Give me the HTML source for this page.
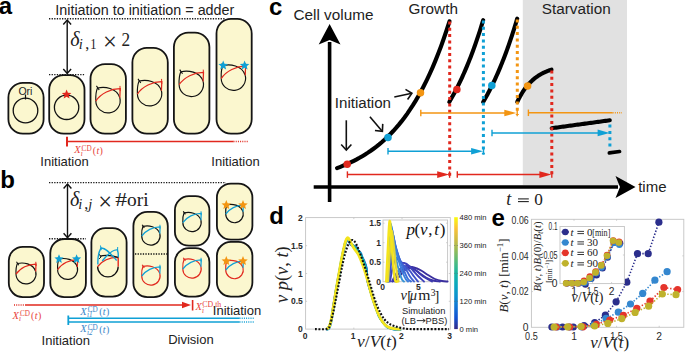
<!DOCTYPE html>
<html><head><meta charset="utf-8"><style>
html,body{margin:0;padding:0;background:#fff;}
svg{display:block;}
</style></head><body>
<svg width="685" height="353" viewBox="0 0 685 353">
<rect width="685" height="353" fill="#fff"/>
<text x="-1.3" y="14.3" font-family='"Liberation Sans", sans-serif' font-size="24" fill="#000" font-weight="bold" font-style="normal" text-anchor="start" >a</text>
<text x="55.3" y="14.9" font-family='"Liberation Sans", sans-serif' font-size="14.35" fill="#222" font-weight="normal" font-style="normal" text-anchor="start" >Initiation to initiation = adder</text>
<line x1="49" y1="18.8" x2="225" y2="18.8" stroke="#1a1a1a" stroke-width="1.4" stroke-dasharray="1.3,1.3" stroke-linecap="butt"/>
<line x1="49" y1="74.6" x2="85" y2="74.6" stroke="#1a1a1a" stroke-width="1.4" stroke-dasharray="1.3,1.3" stroke-linecap="butt"/>
<line x1="67.2" y1="20" x2="67.2" y2="73.5" stroke="#111" stroke-width="1.4" stroke-linecap="butt"/>
<path d="M63.3,24.5 L67.2,20 L71.1,24.5" stroke="#111" stroke-width="1.4" fill="none" />
<path d="M63.3,69 L67.2,73.5 L71.1,69" stroke="#111" stroke-width="1.4" fill="none" />
<text x="70.2" y="45.8" font-family='"Liberation Serif", serif' font-size="20" fill="#222" font-weight="normal" font-style="italic" text-anchor="start" >δ</text>
<text x="78.7" y="48.9" font-family='"Liberation Serif", serif' font-size="14.5" fill="#222" font-weight="normal" font-style="italic" text-anchor="start" >i</text>
<text x="85.2" y="48.9" font-family='"Liberation Serif", serif' font-size="16" fill="#222" font-weight="normal" font-style="normal" text-anchor="start" >,</text>
<text x="90.3" y="48.9" font-family='"Liberation Serif", serif' font-size="14" fill="#222" font-weight="normal" font-style="normal" text-anchor="start" textLength="6.2" lengthAdjust="spacingAndGlyphs">1</text>
<text x="102.9" y="49.6" font-family='"Liberation Serif", serif' font-size="24.5" fill="#222" font-weight="normal" font-style="normal" text-anchor="start" >×</text>
<text x="121.6" y="45.9" font-family='"Liberation Serif", serif' font-size="18" fill="#222" font-weight="normal" font-style="normal" text-anchor="start" textLength="8.6" lengthAdjust="spacingAndGlyphs">2</text>
<rect x="8.4" y="82.9" width="35.2" height="50.8" rx="14.5" ry="14.5" fill="#fbf7cf" stroke="#151515" stroke-width="1.8"/>
<rect x="49.199999999999996" y="75.2" width="35.30000000000001" height="58.5" rx="14.5" ry="14.5" fill="#fbf7cf" stroke="#151515" stroke-width="1.8"/>
<rect x="90.5" y="64.10000000000001" width="35.400000000000006" height="69.6" rx="14.5" ry="14.5" fill="#fbf7cf" stroke="#151515" stroke-width="1.8"/>
<rect x="132.4" y="47.9" width="35.39999999999999" height="85.8" rx="14.5" ry="14.5" fill="#fbf7cf" stroke="#151515" stroke-width="1.8"/>
<rect x="173.9" y="32.6" width="35.500000000000014" height="101.1" rx="14.5" ry="14.5" fill="#fbf7cf" stroke="#151515" stroke-width="1.8"/>
<rect x="216.5" y="18.9" width="35.2" height="114.8" rx="14.5" ry="14.5" fill="#fbf7cf" stroke="#151515" stroke-width="1.8"/>
<circle cx="25.5" cy="110.5" r="12.3" fill="none" stroke="#111" stroke-width="1.3"/>
<line x1="25.5" y1="94.5" x2="25.5" y2="99.5" stroke="#111" stroke-width="1.2" stroke-linecap="butt"/>
<text x="25.4" y="94.6" font-family='"Liberation Sans", sans-serif' font-size="10.5" fill="#222" font-weight="normal" font-style="normal" text-anchor="middle" >Ori</text>
<circle cx="66.6" cy="107.3" r="12.2" fill="none" stroke="#111" stroke-width="1.3"/>
<polygon points="66.60,89.50 67.92,92.68 71.36,92.95 68.74,95.20 69.54,98.55 66.60,96.75 63.66,98.55 64.46,95.20 61.84,92.95 65.28,92.68" fill="#e1281e"/>
<path d="M95.80,100.80 A12.2,12.2 0 1 0 119.83,97.75" stroke="#111" stroke-width="1.15" fill="none" />
<path d="M95.80,100.80 C95.56,95.31 96.41,90.43 97.51,87.99 C104.34,86.53 116.54,87.38 119.83,97.75" stroke="#111" stroke-width="1.15" fill="none" />
<path d="M95.80,101.04 C100.68,93.48 111.05,88.60 120.20,88.60 L119.83,97.75" stroke="#e1281e" stroke-width="1.25" fill="none" />
<path d="M96.41,85.92 L99.22,90.06" stroke="#111" stroke-width="1.1" fill="none" />
<path d="M119.96,85.92 L120.20,91.04" stroke="#e1281e" stroke-width="1.0" fill="none" />
<path d="M137.40,93.80 A12.2,12.2 0 1 0 161.43,90.75" stroke="#111" stroke-width="1.15" fill="none" />
<path d="M137.40,93.80 C137.16,88.31 138.01,83.43 139.11,80.99 C145.94,79.53 158.14,80.38 161.43,90.75" stroke="#111" stroke-width="1.15" fill="none" />
<path d="M137.40,94.04 C142.28,86.48 152.65,81.60 161.80,81.60 L161.43,90.75" stroke="#e1281e" stroke-width="1.25" fill="none" />
<path d="M138.01,78.92 L140.82,83.06" stroke="#111" stroke-width="1.1" fill="none" />
<path d="M161.56,78.92 L161.80,84.04" stroke="#e1281e" stroke-width="1.0" fill="none" />
<path d="M179.10,84.50 A12.2,12.2 0 1 0 203.13,81.45" stroke="#111" stroke-width="1.15" fill="none" />
<path d="M179.10,84.50 C178.86,79.01 179.71,74.13 180.81,71.69 C187.64,70.23 199.84,71.08 203.13,81.45" stroke="#111" stroke-width="1.15" fill="none" />
<path d="M179.10,84.74 C183.98,77.18 194.35,72.30 203.50,72.30 L203.13,81.45" stroke="#e1281e" stroke-width="1.25" fill="none" />
<path d="M179.71,69.62 L182.52,73.76" stroke="#111" stroke-width="1.1" fill="none" />
<path d="M203.26,69.62 L203.50,74.74" stroke="#e1281e" stroke-width="1.0" fill="none" />
<path d="M221.20,78.30 A12.2,12.2 0 1 0 245.23,75.25" stroke="#111" stroke-width="1.15" fill="none" />
<path d="M221.20,78.30 C220.96,72.81 221.81,67.93 222.91,65.49 C229.74,64.03 241.94,64.88 245.23,75.25" stroke="#111" stroke-width="1.15" fill="none" />
<path d="M221.20,78.54 C226.08,70.98 236.45,66.10 245.60,66.10 L245.23,75.25" stroke="#e1281e" stroke-width="1.25" fill="none" />
<path d="M221.81,63.42 L224.62,67.56" stroke="#111" stroke-width="1.1" fill="none" />
<path d="M245.36,63.42 L245.60,68.54" stroke="#e1281e" stroke-width="1.0" fill="none" />
<polygon points="223.20,60.50 224.52,63.68 227.96,63.95 225.34,66.20 226.14,69.55 223.20,67.75 220.26,69.55 221.06,66.20 218.44,63.95 221.88,63.68" fill="#0fa0d5"/>
<polygon points="244.60,60.50 245.92,63.68 249.36,63.95 246.74,66.20 247.54,69.55 244.60,67.75 241.66,69.55 242.46,66.20 239.84,63.95 243.28,63.68" fill="#0fa0d5"/>
<line x1="67" y1="141.5" x2="233.5" y2="141.5" stroke="#e1281e" stroke-width="1.4" stroke-linecap="butt"/>
<line x1="233.5" y1="141.5" x2="248" y2="141.5" stroke="#e1281e" stroke-width="1.4" stroke-dasharray="1,1.2" stroke-linecap="butt"/>
<line x1="67" y1="136.8" x2="67" y2="146.5" stroke="#e1281e" stroke-width="2" stroke-linecap="butt"/>
<text x="74.2" y="153.2" font-family='"Liberation Serif", serif' font-size="10.5" fill="#e8453c" font-weight="normal" font-style="italic" text-anchor="start" >X</text>
<text x="80.8" y="155.79999999999998" font-family='"Liberation Serif", serif' font-size="7.2" fill="#e8453c" font-weight="normal" font-style="italic" text-anchor="start" >i</text>
<text x="81.60000000000001" y="150.79999999999998" font-family='"Liberation Serif", serif' font-size="7.2" fill="#e8453c" font-weight="normal" font-style="normal" text-anchor="start" >CD</text>
<text x="92.80000000000001" y="153.5" font-family='"Liberation Serif", serif' font-size="10" fill="#e8453c" font-weight="normal" font-style="normal" text-anchor="start" >(</text>
<text x="96.4" y="153.5" font-family='"Liberation Serif", serif' font-size="10" fill="#e8453c" font-weight="normal" font-style="italic" text-anchor="start" >t</text>
<text x="99.6" y="153.5" font-family='"Liberation Serif", serif' font-size="10" fill="#e8453c" font-weight="normal" font-style="normal" text-anchor="start" >)</text>
<text x="40.3" y="166" font-family='"Liberation Sans", sans-serif' font-size="13" fill="#222" font-weight="normal" font-style="normal" text-anchor="start" >Initiation</text>
<text x="211.3" y="166" font-family='"Liberation Sans", sans-serif' font-size="13" fill="#222" font-weight="normal" font-style="normal" text-anchor="start" >Initiation</text>
<text x="0.3" y="188.1" font-family='"Liberation Sans", sans-serif' font-size="24" fill="#000" font-weight="bold" font-style="normal" text-anchor="start" >b</text>
<line x1="49" y1="182.6" x2="226" y2="182.6" stroke="#1a1a1a" stroke-width="1.4" stroke-dasharray="1.3,1.3" stroke-linecap="butt"/>
<line x1="49" y1="238.8" x2="86" y2="238.8" stroke="#1a1a1a" stroke-width="1.4" stroke-dasharray="1.3,1.3" stroke-linecap="butt"/>
<line x1="67.5" y1="184" x2="67.5" y2="237.8" stroke="#111" stroke-width="1.4" stroke-linecap="butt"/>
<path d="M63.6,188.5 L67.5,184 L71.4,188.5" stroke="#111" stroke-width="1.4" fill="none" />
<path d="M63.6,233.3 L67.5,237.8 L71.4,233.3" stroke="#111" stroke-width="1.4" fill="none" />
<text x="70.0" y="205.7" font-family='"Liberation Serif", serif' font-size="20" fill="#222" font-weight="normal" font-style="italic" text-anchor="start" >δ</text>
<text x="78.2" y="208.9" font-family='"Liberation Serif", serif' font-size="14.5" fill="#222" font-weight="normal" font-style="italic" text-anchor="start" >i</text>
<text x="84.3" y="208.9" font-family='"Liberation Serif", serif' font-size="16" fill="#222" font-weight="normal" font-style="normal" text-anchor="start" >,</text>
<text x="88.2" y="208.9" font-family='"Liberation Serif", serif' font-size="14.5" fill="#222" font-weight="normal" font-style="italic" text-anchor="start" >j</text>
<text x="98.2" y="209.6" font-family='"Liberation Serif", serif' font-size="24.5" fill="#222" font-weight="normal" font-style="normal" text-anchor="start" >×</text>
<text x="115.2" y="205.8" font-family='"Liberation Serif", serif' font-size="18" fill="#222" font-weight="normal" font-style="normal" text-anchor="start" textLength="11.8" lengthAdjust="spacingAndGlyphs">#</text>
<text x="127.0" y="205.8" font-family='"Liberation Serif", serif' font-size="18" fill="#222" font-weight="normal" font-style="normal" text-anchor="start" textLength="21.6" lengthAdjust="spacingAndGlyphs">ori</text>
<rect x="8.8" y="246.8" width="35.2" height="50.3" rx="14" ry="14" fill="#fbf7cf" stroke="#151515" stroke-width="1.8"/>
<rect x="50.3" y="239.0" width="35.6" height="58.10000000000001" rx="14" ry="14" fill="#fbf7cf" stroke="#151515" stroke-width="1.8"/>
<rect x="91.4" y="228.20000000000002" width="35.2" height="68.39999999999999" rx="14" ry="14" fill="#fbf7cf" stroke="#151515" stroke-width="1.8"/>
<rect x="133.4" y="211.9" width="34.39999999999999" height="85.2" rx="14" ry="14" fill="#fbf7cf" stroke="#151515" stroke-width="1.8"/>
<rect x="174.9" y="196.20000000000002" width="34.500000000000014" height="49.499999999999986" rx="14" ry="14" fill="#fbf7cf" stroke="#151515" stroke-width="1.8"/>
<rect x="174.9" y="248.1" width="34.500000000000014" height="48.500000000000014" rx="14" ry="14" fill="#fbf7cf" stroke="#151515" stroke-width="1.8"/>
<rect x="216.9" y="183.6" width="35.500000000000014" height="56.10000000000001" rx="14" ry="14" fill="#fbf7cf" stroke="#151515" stroke-width="1.8"/>
<rect x="216.9" y="241.9" width="35.500000000000014" height="54.7" rx="14" ry="14" fill="#fbf7cf" stroke="#151515" stroke-width="1.8"/>
<line x1="135" y1="254" x2="167" y2="254" stroke="#111" stroke-width="1.3" stroke-dasharray="1.3,1.3" stroke-linecap="butt"/>
<path d="M16.00,274.00 A10,10 0 1 0 35.70,271.50" stroke="#111" stroke-width="1.15" fill="none" />
<path d="M16.00,274.00 C15.80,269.50 16.50,265.50 17.40,263.50 C23.00,262.30 33.00,263.00 35.70,271.50" stroke="#111" stroke-width="1.15" fill="none" />
<path d="M16.00,274.20 C20.00,268.00 28.50,264.00 36.00,264.00 L35.70,271.50" stroke="#e1281e" stroke-width="1.25" fill="none" />
<path d="M16.50,261.80 L18.80,265.20" stroke="#111" stroke-width="1.1" fill="none" />
<path d="M35.80,261.80 L36.00,266.00" stroke="#e1281e" stroke-width="1.0" fill="none" />
<path d="M57.60,269.50 A10,10 0 1 0 77.30,267.00" stroke="#111" stroke-width="1.15" fill="none" />
<path d="M57.60,269.50 C57.40,265.00 58.10,261.00 59.00,259.00 C64.60,257.80 74.60,258.50 77.30,267.00" stroke="#111" stroke-width="1.15" fill="none" />
<path d="M57.60,269.70 C61.60,263.50 70.10,259.50 77.60,259.50 L77.30,267.00" stroke="#e1281e" stroke-width="1.25" fill="none" />
<path d="M58.10,257.30 L60.40,260.70" stroke="#111" stroke-width="1.1" fill="none" />
<path d="M77.40,257.30 L77.60,261.50" stroke="#e1281e" stroke-width="1.0" fill="none" />
<polygon points="59.00,254.20 60.27,257.25 63.57,257.52 61.05,259.67 61.82,262.88 59.00,261.16 56.18,262.88 56.95,259.67 54.43,257.52 57.73,257.25" fill="#0fa0d5"/>
<polygon points="76.60,254.20 77.87,257.25 81.17,257.52 78.65,259.67 79.42,262.88 76.60,261.16 73.78,262.88 74.55,259.67 72.03,257.52 75.33,257.25" fill="#0fa0d5"/>
<path d="M97.60,266.60 A10.3,10.3 0 0 0 118.20,266.60" stroke="#111" stroke-width="1.3" fill="none" />
<path d="M97.60,266.60 C102.23,260.42 110.48,257.33 118.20,257.33 L118.20,266.60" stroke="#e1281e" stroke-width="1.4" fill="none" />
<path d="M99.87,256.09 C104.81,255.06 113.05,255.79 118.20,257.33" stroke="#111" stroke-width="1.3" fill="none" />
<path d="M98.63,253.73 L101.21,256.81 L99.15,258.88" stroke="#111" stroke-width="1.0" fill="none" />
<path d="M97.91,264.54 C97.60,257.33 99.15,251.15 100.90,248.06 C105.84,247.55 110.99,254.24 116.66,260.42" stroke="#0fa0d5" stroke-width="1.4" fill="none" />
<path d="M102.23,260.94 C106.87,255.27 113.05,249.09 117.48,249.91 C118.41,253.21 118.41,255.27 118.20,257.33" stroke="#0fa0d5" stroke-width="1.4" fill="none" />
<path d="M100.48,245.49 L101.31,250.12" stroke="#0fa0d5" stroke-width="1.0" fill="none" />
<path d="M117.69,247.03 L117.48,251.67" stroke="#0fa0d5" stroke-width="1.0" fill="none" />
<path d="M141.70,236.00 A9.2,9.2 0 1 0 159.82,233.70" stroke="#111" stroke-width="1.15" fill="none" />
<path d="M141.70,236.00 C141.52,231.86 142.16,228.18 142.99,226.34 C148.14,225.24 157.34,225.88 159.82,233.70" stroke="#111" stroke-width="1.15" fill="none" />
<path d="M141.70,236.18 C145.38,230.48 153.20,226.80 160.10,226.80 L159.82,233.70" stroke="#0fa0d5" stroke-width="1.25" fill="none" />
<path d="M142.16,224.78 L144.28,227.90" stroke="#111" stroke-width="1.1" fill="none" />
<path d="M159.92,224.78 L160.10,228.64" stroke="#0fa0d5" stroke-width="1.0" fill="none" />
<path d="M141.70,276.00 A9.2,9.2 0 1 0 159.82,273.70" stroke="#e1281e" stroke-width="1.15" fill="none" />
<path d="M141.70,276.00 C141.52,271.86 142.16,268.18 142.99,266.34 C148.14,265.24 157.34,265.88 159.82,273.70" stroke="#e1281e" stroke-width="1.15" fill="none" />
<path d="M141.70,276.18 C145.38,270.48 153.20,266.80 160.10,266.80 L159.82,273.70" stroke="#0fa0d5" stroke-width="1.25" fill="none" />
<path d="M142.16,264.78 L144.28,267.90" stroke="#e1281e" stroke-width="1.1" fill="none" />
<path d="M159.92,264.78 L160.10,268.64" stroke="#0fa0d5" stroke-width="1.0" fill="none" />
<path d="M182.80,222.50 A9.2,9.2 0 1 0 200.92,220.20" stroke="#111" stroke-width="1.15" fill="none" />
<path d="M182.80,222.50 C182.62,218.36 183.26,214.68 184.09,212.84 C189.24,211.74 198.44,212.38 200.92,220.20" stroke="#111" stroke-width="1.15" fill="none" />
<path d="M182.80,222.68 C186.48,216.98 194.30,213.30 201.20,213.30 L200.92,220.20" stroke="#0fa0d5" stroke-width="1.25" fill="none" />
<path d="M183.26,211.28 L185.38,214.40" stroke="#111" stroke-width="1.1" fill="none" />
<path d="M201.02,211.28 L201.20,215.14" stroke="#0fa0d5" stroke-width="1.0" fill="none" />
<path d="M182.80,269.00 A9.2,9.2 0 1 0 200.92,266.70" stroke="#e1281e" stroke-width="1.15" fill="none" />
<path d="M182.80,269.00 C182.62,264.86 183.26,261.18 184.09,259.34 C189.24,258.24 198.44,258.88 200.92,266.70" stroke="#e1281e" stroke-width="1.15" fill="none" />
<path d="M182.80,269.18 C186.48,263.48 194.30,259.80 201.20,259.80 L200.92,266.70" stroke="#0fa0d5" stroke-width="1.25" fill="none" />
<path d="M183.26,257.78 L185.38,260.90" stroke="#e1281e" stroke-width="1.1" fill="none" />
<path d="M201.02,257.78 L201.20,261.64" stroke="#0fa0d5" stroke-width="1.0" fill="none" />
<path d="M225.70,214.00 A8.8,8.8 0 1 0 243.04,211.80" stroke="#111" stroke-width="1.15" fill="none" />
<path d="M225.70,214.00 C225.52,210.04 226.14,206.52 226.93,204.76 C231.86,203.70 240.66,204.32 243.04,211.80" stroke="#111" stroke-width="1.15" fill="none" />
<path d="M225.70,214.18 C229.22,208.72 236.70,205.20 243.30,205.20 L243.04,211.80" stroke="#0fa0d5" stroke-width="1.25" fill="none" />
<path d="M226.14,203.26 L228.16,206.26" stroke="#111" stroke-width="1.1" fill="none" />
<path d="M243.12,203.26 L243.30,206.96" stroke="#0fa0d5" stroke-width="1.0" fill="none" />
<path d="M225.70,270.00 A8.8,8.8 0 1 0 243.04,267.80" stroke="#e1281e" stroke-width="1.15" fill="none" />
<path d="M225.70,270.00 C225.52,266.04 226.14,262.52 226.93,260.76 C231.86,259.70 240.66,260.32 243.04,267.80" stroke="#e1281e" stroke-width="1.15" fill="none" />
<path d="M225.70,270.18 C229.22,264.72 236.70,261.20 243.30,261.20 L243.04,267.80" stroke="#0fa0d5" stroke-width="1.25" fill="none" />
<path d="M226.14,259.26 L228.16,262.26" stroke="#e1281e" stroke-width="1.1" fill="none" />
<path d="M243.12,259.26 L243.30,262.96" stroke="#0fa0d5" stroke-width="1.0" fill="none" />
<polygon points="226.30,200.00 227.62,203.18 231.06,203.45 228.44,205.70 229.24,209.05 226.30,207.25 223.36,209.05 224.16,205.70 221.54,203.45 224.98,203.18" fill="#f39512"/>
<polygon points="243.00,200.00 244.32,203.18 247.76,203.45 245.14,205.70 245.94,209.05 243.00,207.25 240.06,209.05 240.86,205.70 238.24,203.45 241.68,203.18" fill="#f39512"/>
<polygon points="226.30,256.00 227.62,259.18 231.06,259.45 228.44,261.70 229.24,265.05 226.30,263.25 223.36,265.05 224.16,261.70 221.54,259.45 224.98,259.18" fill="#f39512"/>
<polygon points="243.00,256.00 244.32,259.18 247.76,259.45 245.14,261.70 245.94,265.05 243.00,263.25 240.06,265.05 240.86,261.70 238.24,259.45 241.68,259.18" fill="#f39512"/>
<line x1="14" y1="305" x2="26" y2="305" stroke="#e1281e" stroke-width="1.4" stroke-dasharray="1,1.2" stroke-linecap="butt"/>
<line x1="26" y1="305" x2="183.0" y2="305.0" stroke="#e1281e" stroke-width="1.4" stroke-linecap="butt"/>
<polygon points="191,305 182.00,308.20 182.00,301.80" fill="#e1281e"/>
<line x1="192.6" y1="300" x2="192.6" y2="310.5" stroke="#e1281e" stroke-width="1.6" stroke-linecap="butt"/>
<text x="12.5" y="318.8" font-family='"Liberation Serif", serif' font-size="10.5" fill="#e8453c" font-weight="normal" font-style="italic" text-anchor="start" >X</text>
<text x="19.1" y="321.40000000000003" font-family='"Liberation Serif", serif' font-size="7.2" fill="#e8453c" font-weight="normal" font-style="italic" text-anchor="start" >i</text>
<text x="19.9" y="316.40000000000003" font-family='"Liberation Serif", serif' font-size="7.2" fill="#e8453c" font-weight="normal" font-style="normal" text-anchor="start" >CD</text>
<text x="31.1" y="319.1" font-family='"Liberation Serif", serif' font-size="10" fill="#e8453c" font-weight="normal" font-style="normal" text-anchor="start" >(</text>
<text x="34.7" y="319.1" font-family='"Liberation Serif", serif' font-size="10" fill="#e8453c" font-weight="normal" font-style="italic" text-anchor="start" >t</text>
<text x="37.9" y="319.1" font-family='"Liberation Serif", serif' font-size="10" fill="#e8453c" font-weight="normal" font-style="normal" text-anchor="start" >)</text>
<text x="195.5" y="310.3" font-family='"Liberation Serif", serif' font-size="10.5" fill="#e8453c" font-weight="normal" font-style="italic" text-anchor="start" >X</text>
<text x="202.1" y="312.9" font-family='"Liberation Serif", serif' font-size="7.2" fill="#e8453c" font-weight="normal" font-style="italic" text-anchor="start" >i</text>
<text x="202.3" y="306.6" font-family='"Liberation Serif", serif' font-size="7.2" fill="#e8453c" font-weight="normal" font-style="normal" text-anchor="start" textLength="19" lengthAdjust="spacingAndGlyphs">CD,th</text>
<text x="212.8" y="315" font-family='"Liberation Sans", sans-serif' font-size="13" fill="#222" font-weight="normal" font-style="normal" text-anchor="start" >Initiation</text>
<line x1="68" y1="318.2" x2="239.5" y2="318.2" stroke="#0fa0d5" stroke-width="1.5" stroke-linecap="butt"/>
<line x1="68" y1="322" x2="239.5" y2="322" stroke="#0fa0d5" stroke-width="1.5" stroke-linecap="butt"/>
<line x1="239.5" y1="318.2" x2="254" y2="318.2" stroke="#0fa0d5" stroke-width="1.5" stroke-dasharray="1,1.2" stroke-linecap="butt"/>
<line x1="239.5" y1="322" x2="254" y2="322" stroke="#0fa0d5" stroke-width="1.5" stroke-dasharray="1,1.2" stroke-linecap="butt"/>
<line x1="68.3" y1="315.5" x2="68.3" y2="325" stroke="#0fa0d5" stroke-width="1.8" stroke-linecap="butt"/>
<text x="80.3" y="314.6" font-family='"Liberation Serif", serif' font-size="10.5" fill="#3b86c8" font-weight="normal" font-style="italic" text-anchor="start" >X</text>
<text x="86.9" y="317.20000000000005" font-family='"Liberation Serif", serif' font-size="7.2" fill="#3b86c8" font-weight="normal" font-style="italic" text-anchor="start" >i1</text>
<text x="87.7" y="312.20000000000005" font-family='"Liberation Serif", serif' font-size="7.2" fill="#3b86c8" font-weight="normal" font-style="normal" text-anchor="start" >CD</text>
<text x="99.2" y="314.90000000000003" font-family='"Liberation Serif", serif' font-size="10" fill="#3b86c8" font-weight="normal" font-style="normal" text-anchor="start" >(</text>
<text x="102.8" y="314.90000000000003" font-family='"Liberation Serif", serif' font-size="10" fill="#3b86c8" font-weight="normal" font-style="italic" text-anchor="start" >t</text>
<text x="106" y="314.90000000000003" font-family='"Liberation Serif", serif' font-size="10" fill="#3b86c8" font-weight="normal" font-style="normal" text-anchor="start" >)</text>
<text x="80.3" y="332.2" font-family='"Liberation Serif", serif' font-size="10.5" fill="#3b86c8" font-weight="normal" font-style="italic" text-anchor="start" >X</text>
<text x="86.9" y="334.8" font-family='"Liberation Serif", serif' font-size="7.2" fill="#3b86c8" font-weight="normal" font-style="italic" text-anchor="start" >i2</text>
<text x="87.7" y="329.8" font-family='"Liberation Serif", serif' font-size="7.2" fill="#3b86c8" font-weight="normal" font-style="normal" text-anchor="start" >CD</text>
<text x="99.2" y="332.5" font-family='"Liberation Serif", serif' font-size="10" fill="#3b86c8" font-weight="normal" font-style="normal" text-anchor="start" >(</text>
<text x="102.8" y="332.5" font-family='"Liberation Serif", serif' font-size="10" fill="#3b86c8" font-weight="normal" font-style="italic" text-anchor="start" >t</text>
<text x="106" y="332.5" font-family='"Liberation Serif", serif' font-size="10" fill="#3b86c8" font-weight="normal" font-style="normal" text-anchor="start" >)</text>
<text x="41.6" y="345" font-family='"Liberation Sans", sans-serif' font-size="13" fill="#222" font-weight="normal" font-style="normal" text-anchor="start" >Initiation</text>
<text x="168.2" y="344" font-family='"Liberation Sans", sans-serif' font-size="13" fill="#222" font-weight="normal" font-style="normal" text-anchor="start" >Division</text>
<rect x="522.8" y="0" width="104.2" height="185" fill="#e1e1e1"/>
<text x="269" y="14.8" font-family='"Liberation Sans", sans-serif' font-size="24" fill="#000" font-weight="bold" font-style="normal" text-anchor="start" >c</text>
<text x="293.5" y="19.5" font-family='"Liberation Sans", sans-serif' font-size="15.3" fill="#222" font-weight="normal" font-style="normal" text-anchor="start" >Cell volume</text>
<text x="408.6" y="13.8" font-family='"Liberation Sans", sans-serif' font-size="15.3" fill="#222" font-weight="normal" font-style="normal" text-anchor="start" >Growth</text>
<text x="541.8" y="13.8" font-family='"Liberation Sans", sans-serif' font-size="15.3" fill="#222" font-weight="normal" font-style="normal" text-anchor="start" >Starvation</text>
<line x1="329.6" y1="42" x2="329.6" y2="202" stroke="#000" stroke-width="3.6" stroke-linecap="butt"/>
<polygon points="329.6,24 318.7,44.5 329.6,40 340.5,44.5" fill="#000"/>
<line x1="313.7" y1="187" x2="618" y2="187" stroke="#000" stroke-width="3.6" stroke-linecap="butt"/>
<polygon points="635.5,187 615.5,176 620,187 615.5,198" fill="#000"/>
<text x="638.2" y="191.8" font-family='"Liberation Sans", sans-serif' font-size="15" fill="#222" font-weight="normal" font-style="normal" text-anchor="start" >time</text>
<path d="M337.00,168.10 L339.81,167.05 L342.62,165.93 L345.44,164.76 L348.25,163.52 L351.06,162.21 L353.88,160.82 L356.69,159.36 L359.50,157.82 L362.31,156.19 L365.12,154.48 L367.94,152.66 L370.75,150.75 L373.56,148.72 L376.38,146.59 L379.19,144.33 L382.00,141.96 L384.81,139.44 L387.62,136.79 L390.44,133.99 L393.25,131.03 L396.06,127.91 L398.88,124.61 L401.69,121.13 L404.50,117.46 L407.31,113.58 L410.12,109.48 L412.94,105.16 L415.75,100.60 L418.56,95.78 L421.38,90.69 L424.19,85.31 L427.00,79.64 L429.81,73.65 L432.62,67.33 L435.44,60.66 L438.25,53.61 L441.06,46.17 L443.88,38.31 L446.69,30.02 L449.50,21.26" stroke="#000" stroke-width="4.1" fill="none" stroke-linecap="round"/>
<path d="M449.30,102.00 L450.15,100.55 L451.00,99.08 L451.84,97.59 L452.69,96.07 L453.54,94.52 L454.38,92.95 L455.23,91.35 L456.08,89.72 L456.93,88.07 L457.77,86.38 L458.62,84.67 L459.47,82.93 L460.32,81.16 L461.17,79.36 L462.01,77.53 L462.86,75.67 L463.71,73.78 L464.56,71.85 L465.40,69.89 L466.25,67.90 L467.10,65.88 L467.94,63.82 L468.79,61.72 L469.64,59.59 L470.49,57.42 L471.33,55.22 L472.18,52.98 L473.03,50.70 L473.88,48.38 L474.73,46.02 L475.57,43.62 L476.42,41.18 L477.27,38.70 L478.12,36.18 L478.96,33.62 L479.81,31.01 L480.66,28.36 L481.50,25.66 L482.35,22.91 L483.20,20.12" stroke="#000" stroke-width="4.1" fill="none" stroke-linecap="round"/>
<path d="M483.20,102.00 L484.05,100.54 L484.90,99.05 L485.75,97.53 L486.60,95.99 L487.45,94.42 L488.30,92.82 L489.15,91.20 L490.00,89.55 L490.85,87.87 L491.70,86.16 L492.55,84.43 L493.40,82.66 L494.25,80.86 L495.10,79.03 L495.95,77.17 L496.80,75.28 L497.65,73.35 L498.50,71.39 L499.35,69.40 L500.20,67.38 L501.05,65.31 L501.90,63.22 L502.75,61.09 L503.60,58.92 L504.45,56.71 L505.30,54.46 L506.15,52.18 L507.00,49.86 L507.85,47.49 L508.70,45.09 L509.55,42.64 L510.40,40.16 L511.25,37.63 L512.10,35.05 L512.95,32.43 L513.80,29.77 L514.65,27.06 L515.50,24.30 L516.35,21.50 L517.20,18.65" stroke="#000" stroke-width="4.1" fill="none" stroke-linecap="round"/>
<path d="M517.20,102.00 L518.06,100.23 L518.92,98.55 L519.77,96.94 L520.63,95.41 L521.49,93.95 L522.35,92.55 L523.20,91.22 L524.06,89.96 L524.92,88.75 L525.78,87.60 L526.63,86.50 L527.49,85.45 L528.35,84.46 L529.21,83.50 L530.06,82.60 L530.92,81.73 L531.78,80.91 L532.63,80.12 L533.49,79.37 L534.35,78.66 L535.21,77.97 L536.07,77.32 L536.92,76.70 L537.78,76.11 L538.64,75.55 L539.50,75.01 L540.35,74.50 L541.21,74.01 L542.07,73.55 L542.92,73.10 L543.78,72.68 L544.64,72.27 L545.50,71.89 L546.36,71.52 L547.21,71.17 L548.07,70.84 L548.93,70.52 L549.78,70.22 L550.64,69.93 L551.50,69.65" stroke="#000" stroke-width="4.1" fill="none" stroke-linecap="round"/>
<path d="M551.70,128.20 L553.15,128.00 L554.61,127.80 L556.06,127.61 L557.51,127.41 L558.96,127.21 L560.42,127.01 L561.87,126.82 L563.32,126.62 L564.77,126.42 L566.23,126.22 L567.68,126.02 L569.13,125.83 L570.58,125.63 L572.03,125.43 L573.49,125.23 L574.94,125.03 L576.39,124.84 L577.85,124.64 L579.30,124.44 L580.75,124.24 L582.20,124.05 L583.65,123.85 L585.11,123.65 L586.56,123.45 L588.01,123.25 L589.47,123.06 L590.92,122.86 L592.37,122.66 L593.82,122.46 L595.27,122.26 L596.73,122.07 L598.18,121.87 L599.63,121.67 L601.08,121.47 L602.54,121.28 L603.99,121.08 L605.44,120.88 L606.89,120.68 L608.35,120.48 L609.80,120.29" stroke="#000" stroke-width="4.1" fill="none" stroke-linecap="round"/>
<line x1="609.3" y1="152.9" x2="619.6" y2="151.5" stroke="#000" stroke-width="3.6" stroke-linecap="round"/>
<line x1="449.7" y1="21.5" x2="449.7" y2="176.5" stroke="#e1281e" stroke-width="3.0" stroke-dasharray="3.0,3.3" stroke-linecap="butt"/>
<line x1="483.4" y1="20.5" x2="483.4" y2="154.5" stroke="#0fa0d5" stroke-width="3.0" stroke-dasharray="3.0,3.3" stroke-linecap="butt"/>
<line x1="517.3" y1="19.5" x2="517.3" y2="115" stroke="#f39512" stroke-width="3.0" stroke-dasharray="3.0,3.3" stroke-linecap="butt"/>
<line x1="551.8" y1="70.5" x2="551.8" y2="176" stroke="#e1281e" stroke-width="3.0" stroke-dasharray="3.0,3.3" stroke-linecap="butt"/>
<line x1="609.9" y1="124.6" x2="609.9" y2="148" stroke="#0fa0d5" stroke-width="3.0" stroke-dasharray="3.0,3.3" stroke-linecap="butt"/>
<line x1="347.4" y1="174.6" x2="438.2" y2="174.6" stroke="#e1281e" stroke-width="1.5" stroke-linecap="butt"/>
<polygon points="449.2,174.6 437.20,177.90 437.20,171.30" fill="#e1281e"/>
<line x1="347.4" y1="171.35" x2="347.4" y2="177.85" stroke="#e1281e" stroke-width="1.4" stroke-linecap="butt"/>
<line x1="449.6" y1="171.35" x2="449.6" y2="177.85" stroke="#e1281e" stroke-width="1.4" stroke-linecap="butt"/>
<line x1="457.3" y1="174.6" x2="540.4" y2="174.6" stroke="#e1281e" stroke-width="1.5" stroke-linecap="butt"/>
<polygon points="551.4,174.6 539.40,177.90 539.40,171.30" fill="#e1281e"/>
<line x1="457.3" y1="171.35" x2="457.3" y2="177.85" stroke="#e1281e" stroke-width="1.4" stroke-linecap="butt"/>
<line x1="551.8" y1="171.35" x2="551.8" y2="177.85" stroke="#e1281e" stroke-width="1.4" stroke-linecap="butt"/>
<line x1="388" y1="151.3" x2="472.1" y2="151.3" stroke="#0fa0d5" stroke-width="1.5" stroke-linecap="butt"/>
<polygon points="483.1,151.3 471.10,154.60 471.10,148.00" fill="#0fa0d5"/>
<line x1="388" y1="148.05" x2="388" y2="154.55" stroke="#0fa0d5" stroke-width="1.4" stroke-linecap="butt"/>
<line x1="483.5" y1="148.05" x2="483.5" y2="154.55" stroke="#0fa0d5" stroke-width="1.4" stroke-linecap="butt"/>
<line x1="492" y1="132.9" x2="598.6" y2="132.9" stroke="#0fa0d5" stroke-width="1.5" stroke-linecap="butt"/>
<polygon points="609.6,132.9 597.60,136.20 597.60,129.60" fill="#0fa0d5"/>
<line x1="492" y1="129.65" x2="492" y2="136.15" stroke="#0fa0d5" stroke-width="1.4" stroke-linecap="butt"/>
<line x1="420.8" y1="113.0" x2="505.29999999999995" y2="113.0" stroke="#f39512" stroke-width="1.5" stroke-linecap="butt"/>
<polygon points="516.3,113.0 504.30,116.30 504.30,109.70" fill="#f39512"/>
<line x1="420.8" y1="109.75" x2="420.8" y2="116.25" stroke="#f39512" stroke-width="1.4" stroke-linecap="butt"/>
<line x1="517.2" y1="109.75" x2="517.2" y2="116.25" stroke="#f39512" stroke-width="1.4" stroke-linecap="butt"/>
<line x1="528.4" y1="112.8" x2="612.6" y2="112.8" stroke="#f39512" stroke-width="1.5" stroke-linecap="butt"/>
<line x1="528.4" y1="109.55" x2="528.4" y2="116.05" stroke="#f39512" stroke-width="1.4" stroke-linecap="butt"/>
<line x1="612.6" y1="112.8" x2="622" y2="112.8" stroke="#f39512" stroke-width="1.5" stroke-dasharray="1,1.2" stroke-linecap="butt"/>
<circle cx="347.2" cy="164.3" r="3.75" fill="#e1281e"/>
<circle cx="388" cy="137.4" r="3.75" fill="#0fa0d5"/>
<circle cx="420.5" cy="92.8" r="3.75" fill="#f39512"/>
<circle cx="456.9" cy="89.6" r="3.75" fill="#e1281e"/>
<circle cx="491.8" cy="85.4" r="3.75" fill="#0fa0d5"/>
<circle cx="527.6" cy="86.0" r="3.75" fill="#f39512"/>
<text x="334.8" y="108.2" font-family='"Liberation Sans", sans-serif' font-size="15.1" fill="#222" font-weight="normal" font-style="normal" text-anchor="start" >Initiation</text>
<line x1="346.3" y1="120.3" x2="346.3" y2="150" stroke="#111" stroke-width="1.6" stroke-linecap="butt"/>
<path d="M341.19,144.51 L346.3,150 L351.41,144.51" stroke="#111" stroke-width="1.6" fill="none" stroke-linejoin="miter"/>
<line x1="369.9" y1="116.7" x2="382.4" y2="131.4" stroke="#111" stroke-width="1.6" stroke-linecap="butt"/>
<path d="M374.95,130.53 L382.4,131.4 L382.74,123.91" stroke="#111" stroke-width="1.6" fill="none" stroke-linejoin="miter"/>
<line x1="394.3" y1="97" x2="411.9" y2="93.3" stroke="#111" stroke-width="1.6" stroke-linecap="butt"/>
<path d="M407.58,99.43 L411.9,93.3 L405.48,89.43" stroke="#111" stroke-width="1.6" fill="none" stroke-linejoin="miter"/>
<text x="506.2" y="204.6" font-family='"Liberation Serif", serif' font-size="18" fill="#222" font-weight="normal" font-style="italic" text-anchor="start" >t</text>
<line x1="518" y1="198.9" x2="528.8" y2="198.9" stroke="#222" stroke-width="1.1" stroke-linecap="butt"/>
<line x1="518" y1="201.6" x2="528.8" y2="201.6" stroke="#222" stroke-width="1.1" stroke-linecap="butt"/>
<text x="534.3" y="204.6" font-family='"Liberation Serif", serif' font-size="17.2" fill="#222" font-weight="normal" font-style="normal" text-anchor="start" >0</text>
<text x="269.2" y="223.5" font-family='"Liberation Sans", sans-serif' font-size="24" fill="#000" font-weight="bold" font-style="normal" text-anchor="start" >d</text>
<rect x="305.6" y="217.6" width="144.7" height="111.50000000000003" fill="none" stroke="#c4c4c4" stroke-width="0.9"/>
<line x1="353.8" y1="329.1" x2="353.8" y2="327.6" stroke="#c4c4c4" stroke-width="0.8" stroke-linecap="butt"/>
<line x1="353.8" y1="217.6" x2="353.8" y2="219.1" stroke="#c4c4c4" stroke-width="0.8" stroke-linecap="butt"/>
<line x1="402.0" y1="329.1" x2="402.0" y2="327.6" stroke="#c4c4c4" stroke-width="0.8" stroke-linecap="butt"/>
<line x1="402.0" y1="217.6" x2="402.0" y2="219.1" stroke="#c4c4c4" stroke-width="0.8" stroke-linecap="butt"/>
<text x="302.8" y="332.1" font-family='"Liberation Sans", sans-serif' font-size="8.5" fill="#2a2a2a" font-weight="bold" font-style="normal" text-anchor="end" >0</text>
<text x="302.8" y="304.3" font-family='"Liberation Sans", sans-serif' font-size="8.5" fill="#2a2a2a" font-weight="bold" font-style="normal" text-anchor="end" >0.5</text>
<line x1="305.6" y1="301.3" x2="307.1" y2="301.3" stroke="#c4c4c4" stroke-width="0.8" stroke-linecap="butt"/>
<line x1="450.3" y1="301.3" x2="448.8" y2="301.3" stroke="#c4c4c4" stroke-width="0.8" stroke-linecap="butt"/>
<text x="302.8" y="276.5" font-family='"Liberation Sans", sans-serif' font-size="8.5" fill="#2a2a2a" font-weight="bold" font-style="normal" text-anchor="end" >1</text>
<line x1="305.6" y1="273.5" x2="307.1" y2="273.5" stroke="#c4c4c4" stroke-width="0.8" stroke-linecap="butt"/>
<line x1="450.3" y1="273.5" x2="448.8" y2="273.5" stroke="#c4c4c4" stroke-width="0.8" stroke-linecap="butt"/>
<text x="302.8" y="248.70000000000002" font-family='"Liberation Sans", sans-serif' font-size="8.5" fill="#2a2a2a" font-weight="bold" font-style="normal" text-anchor="end" >1.5</text>
<line x1="305.6" y1="245.70000000000002" x2="307.1" y2="245.70000000000002" stroke="#c4c4c4" stroke-width="0.8" stroke-linecap="butt"/>
<line x1="450.3" y1="245.70000000000002" x2="448.8" y2="245.70000000000002" stroke="#c4c4c4" stroke-width="0.8" stroke-linecap="butt"/>
<text x="302.8" y="220.90000000000003" font-family='"Liberation Sans", sans-serif' font-size="8.5" fill="#2a2a2a" font-weight="bold" font-style="normal" text-anchor="end" >2</text>
<text x="305.0" y="338.8" font-family='"Liberation Sans", sans-serif' font-size="8.5" fill="#2a2a2a" font-weight="bold" font-style="normal" text-anchor="middle" >0</text>
<text x="353.2" y="338.8" font-family='"Liberation Sans", sans-serif' font-size="8.5" fill="#2a2a2a" font-weight="bold" font-style="normal" text-anchor="middle" >1</text>
<text x="401.4" y="338.8" font-family='"Liberation Sans", sans-serif' font-size="8.5" fill="#2a2a2a" font-weight="bold" font-style="normal" text-anchor="middle" >2</text>
<text x="449.6" y="338.8" font-family='"Liberation Sans", sans-serif' font-size="8.5" fill="#2a2a2a" font-weight="bold" font-style="normal" text-anchor="middle" >3</text>
<text transform="translate(287.9,303.0) rotate(-90)" font-family='"Liberation Serif", serif' font-size="18.4" fill="#222"><tspan font-style="italic">v</tspan> <tspan font-style="italic">p</tspan>(<tspan font-style="italic">v</tspan>, <tspan font-style="italic">t</tspan>)</text>
<text x="357.0" y="347.2" font-family='"Liberation Serif", serif' font-size="17.5" fill="#222"><tspan font-style="italic">v</tspan>/<tspan font-style="italic">V</tspan>(<tspan font-style="italic">t</tspan>)</text>
<path d="M326.29,329.19 C326.72,328.86 328.09,328.80 328.90,327.21 C329.70,325.61 330.40,323.05 331.10,319.63 C331.80,316.21 332.33,311.62 333.11,306.67 C333.90,301.73 334.84,295.09 335.81,289.97 C336.77,284.85 337.99,280.61 338.90,275.94 C339.81,271.27 340.48,266.48 341.27,261.95 C342.05,257.43 342.89,251.84 343.61,248.80 C344.33,245.77 344.99,245.24 345.61,243.74 C346.23,242.23 346.73,240.47 347.32,239.78 C347.91,239.10 348.49,238.81 349.14,239.63 C349.79,240.44 350.03,243.53 351.21,244.68 C352.38,245.84 354.91,245.44 356.18,246.56 C357.45,247.69 358.04,249.97 358.83,251.44 C359.63,252.90 360.06,253.85 360.95,255.34 C361.83,256.83 363.28,258.33 364.16,260.39 C365.05,262.45 365.75,264.27 366.27,267.69 C366.78,271.12 366.49,276.67 367.27,280.93 C368.05,285.19 369.69,289.16 370.95,293.25 C372.21,297.35 373.51,301.86 374.84,305.51 C376.17,309.17 377.54,312.34 378.91,315.20 C380.28,318.06 381.58,320.67 383.07,322.67 C384.55,324.66 385.94,326.04 387.82,327.16 C389.70,328.29 392.13,329.03 394.34,329.41 C396.55,329.79 399.97,329.44 401.09,329.44" stroke="#4a56c8" stroke-width="1.9" fill="none" stroke-linejoin="round"/>
<path d="M326.23,329.82 C326.75,329.49 328.57,329.29 329.37,327.81 C330.18,326.33 330.41,324.45 331.06,320.93 C331.70,317.40 332.43,311.81 333.27,306.66 C334.10,301.52 335.25,295.06 336.06,290.07 C336.87,285.08 337.26,281.52 338.15,276.71 C339.04,271.89 340.46,265.74 341.39,261.18 C342.32,256.61 343.10,252.42 343.74,249.32 C344.38,246.22 344.59,244.13 345.22,242.59 C345.85,241.04 346.95,240.36 347.52,240.05 C348.08,239.74 348.12,239.91 348.64,240.73 C349.16,241.54 349.35,243.68 350.64,244.94 C351.92,246.19 355.08,247.09 356.34,248.26 C357.60,249.44 357.57,250.92 358.18,252.00 C358.79,253.07 359.15,253.31 360.00,254.70 C360.85,256.09 362.20,258.17 363.29,260.32 C364.38,262.46 365.89,264.15 366.57,267.58 C367.24,271.02 366.56,276.72 367.35,280.92 C368.14,285.11 370.05,288.65 371.32,292.76 C372.59,296.86 373.67,301.72 374.97,305.54 C376.27,309.36 377.77,312.82 379.12,315.69 C380.46,318.56 381.59,320.89 383.05,322.74 C384.50,324.59 386.04,325.75 387.85,326.81 C389.67,327.88 391.84,328.83 393.94,329.14 C396.05,329.46 399.40,328.78 400.49,328.70" stroke="#1164d7" stroke-width="1.9" fill="none" stroke-linejoin="round"/>
<path d="M326.88,329.14 C327.24,328.62 328.36,327.44 329.04,326.02 C329.71,324.61 330.25,323.96 330.93,320.66 C331.61,317.36 332.25,311.40 333.12,306.23 C333.98,301.06 335.19,294.67 336.11,289.62 C337.02,284.57 337.76,280.59 338.60,275.93 C339.44,271.28 340.30,266.03 341.14,261.71 C341.99,257.38 343.00,253.24 343.67,249.98 C344.33,246.71 344.49,243.75 345.12,242.12 C345.75,240.50 346.83,240.51 347.44,240.23 C348.05,239.94 348.20,239.76 348.80,240.41 C349.41,241.06 349.94,243.02 351.07,244.14 C352.21,245.26 354.42,246.05 355.63,247.13 C356.84,248.20 357.40,249.53 358.33,250.60 C359.26,251.67 360.38,251.97 361.20,253.55 C362.02,255.14 362.41,257.72 363.26,260.12 C364.10,262.52 365.57,264.60 366.27,267.98 C366.97,271.36 366.71,276.29 367.45,280.40 C368.18,284.51 369.45,288.35 370.68,292.64 C371.92,296.94 373.49,302.24 374.87,306.17 C376.25,310.09 377.64,313.54 378.95,316.21 C380.26,318.88 381.29,320.28 382.74,322.17 C384.18,324.07 385.75,326.57 387.62,327.57 C389.49,328.57 391.83,327.89 393.96,328.15 C396.09,328.41 399.32,328.99 400.40,329.16" stroke="#1387d3" stroke-width="1.9" fill="none" stroke-linejoin="round"/>
<path d="M326.25,329.71 C326.76,329.16 328.51,327.80 329.27,326.37 C330.03,324.93 330.10,324.41 330.82,321.11 C331.55,317.82 332.77,311.84 333.61,306.61 C334.46,301.39 335.09,294.76 335.88,289.76 C336.66,284.76 337.51,281.27 338.33,276.59 C339.16,271.91 339.97,266.23 340.82,261.69 C341.67,257.15 342.67,252.31 343.43,249.34 C344.20,246.36 344.83,245.68 345.43,243.84 C346.03,242.00 346.37,238.74 347.02,238.31 C347.68,237.88 348.63,240.25 349.35,241.26 C350.08,242.27 350.29,243.19 351.39,244.37 C352.48,245.55 354.69,247.14 355.93,248.35 C357.16,249.57 357.99,250.72 358.79,251.67 C359.59,252.63 359.98,252.75 360.72,254.08 C361.47,255.41 362.46,257.13 363.29,259.64 C364.11,262.14 364.93,265.66 365.68,269.12 C366.44,272.58 366.88,276.28 367.82,280.39 C368.77,284.50 370.09,289.58 371.34,293.79 C372.59,298.00 374.11,301.95 375.32,305.65 C376.53,309.35 377.37,313.25 378.61,315.99 C379.85,318.73 381.23,320.29 382.74,322.10 C384.24,323.91 385.76,325.60 387.63,326.85 C389.50,328.10 391.74,329.26 393.93,329.58 C396.12,329.90 399.65,328.92 400.79,328.78" stroke="#08a1c8" stroke-width="1.9" fill="none" stroke-linejoin="round"/>
<path d="M326.30,329.82 C326.75,329.45 328.22,329.22 328.98,327.56 C329.75,325.91 330.12,323.38 330.88,319.89 C331.64,316.41 332.72,311.44 333.53,306.63 C334.34,301.83 334.85,296.09 335.74,291.08 C336.62,286.08 337.92,281.62 338.84,276.61 C339.76,271.60 340.46,265.41 341.26,261.02 C342.05,256.62 342.96,253.30 343.60,250.23 C344.25,247.15 344.55,244.35 345.14,242.54 C345.73,240.73 346.48,239.70 347.11,239.35 C347.75,239.01 348.25,239.75 348.94,240.45 C349.62,241.14 350.20,242.45 351.22,243.50 C352.25,244.55 353.88,245.35 355.09,246.75 C356.30,248.16 357.60,250.66 358.48,251.95 C359.36,253.24 359.52,253.13 360.35,254.50 C361.17,255.88 362.47,257.92 363.43,260.20 C364.39,262.49 365.44,265.05 366.10,268.22 C366.75,271.40 366.54,275.05 367.36,279.25 C368.19,283.45 369.79,289.20 371.04,293.43 C372.30,297.67 373.62,301.02 374.90,304.66 C376.19,308.30 377.38,312.18 378.74,315.25 C380.11,318.31 381.64,321.04 383.08,323.07 C384.53,325.09 385.57,326.49 387.40,327.40 C389.24,328.32 391.90,328.28 394.10,328.56 C396.30,328.84 399.51,329.00 400.60,329.09" stroke="#12afb0" stroke-width="1.9" fill="none" stroke-linejoin="round"/>
<path d="M327.10,330.10 C327.52,329.75 328.85,329.43 329.60,328.00 C330.35,326.57 330.85,325.00 331.60,321.50 C332.35,318.00 333.27,312.00 334.10,307.00 C334.93,302.00 335.77,296.50 336.60,291.50 C337.43,286.50 338.27,281.75 339.10,277.00 C339.93,272.25 340.77,267.42 341.60,263.00 C342.43,258.58 343.35,253.92 344.10,250.50 C344.85,247.08 345.47,244.45 346.10,242.50 C346.73,240.55 347.32,239.22 347.90,238.80 C348.48,238.38 348.98,239.13 349.60,240.00 C350.22,240.87 350.85,242.58 351.60,244.00 C352.35,245.42 353.27,247.17 354.10,248.50 C354.93,249.83 355.77,250.83 356.60,252.00 C357.43,253.17 358.27,253.92 359.10,255.50 C359.93,257.08 360.68,259.17 361.60,261.50 C362.52,263.83 363.52,266.25 364.60,269.50 C365.68,272.75 366.93,276.92 368.10,281.00 C369.27,285.08 370.35,289.75 371.60,294.00 C372.85,298.25 374.27,302.75 375.60,306.50 C376.93,310.25 378.27,313.67 379.60,316.50 C380.93,319.33 382.18,321.62 383.60,323.50 C385.02,325.38 386.27,326.77 388.10,327.80 C389.93,328.83 392.40,329.32 394.60,329.70 C396.80,330.08 400.18,330.03 401.30,330.10" stroke="#38a8c8" stroke-width="1.8" fill="none" stroke-linejoin="round"/>
<path d="M326.50,329.10 C326.92,328.75 328.25,328.43 329.00,327.00 C329.75,325.57 330.25,324.00 331.00,320.50 C331.75,317.00 332.67,311.00 333.50,306.00 C334.33,301.00 335.17,295.50 336.00,290.50 C336.83,285.50 337.67,280.75 338.50,276.00 C339.33,271.25 340.17,266.42 341.00,262.00 C341.83,257.58 342.75,252.92 343.50,249.50 C344.25,246.08 344.87,243.45 345.50,241.50 C346.13,239.55 346.72,238.22 347.30,237.80 C347.88,237.38 348.38,238.13 349.00,239.00 C349.62,239.87 350.25,241.58 351.00,243.00 C351.75,244.42 352.67,246.17 353.50,247.50 C354.33,248.83 355.17,249.83 356.00,251.00 C356.83,252.17 357.67,252.92 358.50,254.50 C359.33,256.08 360.08,258.17 361.00,260.50 C361.92,262.83 362.92,265.25 364.00,268.50 C365.08,271.75 366.33,275.92 367.50,280.00 C368.67,284.08 369.75,288.75 371.00,293.00 C372.25,297.25 373.67,301.75 375.00,305.50 C376.33,309.25 377.67,312.67 379.00,315.50 C380.33,318.33 381.58,320.62 383.00,322.50 C384.42,324.38 385.67,325.77 387.50,326.80 C389.33,327.83 391.80,328.32 394.00,328.70 C396.20,329.08 399.58,329.03 400.70,329.10" stroke="#f4e41c" stroke-width="2.8" fill="none" stroke-linejoin="round"/>
<path d="M315.00,329.10 C317.00,329.07 324.50,329.67 327.00,328.90 C329.50,328.13 329.00,327.07 330.00,324.50 C331.00,321.93 332.00,317.83 333.00,313.50 C334.00,309.17 335.00,303.58 336.00,298.50 C337.00,293.42 338.00,288.25 339.00,283.00 C340.00,277.75 341.00,271.83 342.00,267.00 C343.00,262.17 344.00,257.67 345.00,254.00 C346.00,250.33 347.08,247.17 348.00,245.00 C348.92,242.83 349.73,241.83 350.50,241.00 C351.27,240.17 351.85,239.83 352.60,240.00 C353.35,240.17 354.10,240.67 355.00,242.00 C355.90,243.33 357.00,245.67 358.00,248.00 C359.00,250.33 359.92,253.00 361.00,256.00 C362.08,259.00 363.33,262.50 364.50,266.00 C365.67,269.50 366.92,273.50 368.00,277.00 C369.08,280.50 370.00,283.67 371.00,287.00 C372.00,290.33 373.00,293.92 374.00,297.00 C375.00,300.08 375.92,302.83 377.00,305.50 C378.08,308.17 379.25,310.67 380.50,313.00 C381.75,315.33 383.08,317.75 384.50,319.50 C385.92,321.25 387.25,322.37 389.00,323.50 C390.75,324.63 392.67,325.52 395.00,326.30 C397.33,327.08 400.17,327.73 403.00,328.20 C405.83,328.67 404.33,328.95 412.00,329.10 C419.67,329.25 442.83,329.10 449.00,329.10" stroke="#111" stroke-width="2.1" fill="none" stroke-dasharray="1.9,1.6"/>
<rect x="383" y="220" width="64.60000000000002" height="61.69999999999999" fill="#fff" stroke="#c4c4c4" stroke-width="0.9"/>
<text x="381.0" y="284.7" font-family='"Liberation Sans", sans-serif' font-size="8.5" fill="#2a2a2a" font-weight="bold" font-style="normal" text-anchor="end" >0</text>
<text x="381.0" y="265.2" font-family='"Liberation Sans", sans-serif' font-size="8.5" fill="#2a2a2a" font-weight="bold" font-style="normal" text-anchor="end" >0.5</text>
<line x1="383" y1="262.2" x2="384.5" y2="262.2" stroke="#c4c4c4" stroke-width="0.8" stroke-linecap="butt"/>
<line x1="447.6" y1="262.2" x2="446.1" y2="262.2" stroke="#c4c4c4" stroke-width="0.8" stroke-linecap="butt"/>
<text x="381.0" y="245.7" font-family='"Liberation Sans", sans-serif' font-size="8.5" fill="#2a2a2a" font-weight="bold" font-style="normal" text-anchor="end" >1</text>
<line x1="383" y1="242.7" x2="384.5" y2="242.7" stroke="#c4c4c4" stroke-width="0.8" stroke-linecap="butt"/>
<line x1="447.6" y1="242.7" x2="446.1" y2="242.7" stroke="#c4c4c4" stroke-width="0.8" stroke-linecap="butt"/>
<text x="381.0" y="226.2" font-family='"Liberation Sans", sans-serif' font-size="8.5" fill="#2a2a2a" font-weight="bold" font-style="normal" text-anchor="end" >1.5</text>
<line x1="383" y1="223.2" x2="384.5" y2="223.2" stroke="#c4c4c4" stroke-width="0.8" stroke-linecap="butt"/>
<line x1="447.6" y1="223.2" x2="446.1" y2="223.2" stroke="#c4c4c4" stroke-width="0.8" stroke-linecap="butt"/>
<text x="382.6" y="290.3" font-family='"Liberation Sans", sans-serif' font-size="8.5" fill="#2a2a2a" font-weight="bold" font-style="normal" text-anchor="middle" >0</text>
<text x="418.45000000000005" y="290.3" font-family='"Liberation Sans", sans-serif' font-size="8.5" fill="#2a2a2a" font-weight="bold" font-style="normal" text-anchor="middle" >5</text>
<line x1="418.85" y1="281.7" x2="418.85" y2="280.2" stroke="#c4c4c4" stroke-width="0.8" stroke-linecap="butt"/>
<path d="M395.00,281.50 C395.67,280.75 397.67,278.58 399.00,277.00 C400.33,275.42 401.50,273.50 403.00,272.00 C404.50,270.50 406.50,268.83 408.00,268.00 C409.50,267.17 410.50,266.92 412.00,267.00 C413.50,267.08 415.33,267.83 417.00,268.50 C418.67,269.17 420.17,269.92 422.00,271.00 C423.83,272.08 425.83,273.67 428.00,275.00 C430.17,276.33 432.67,278.00 435.00,279.00 C437.33,280.00 439.90,280.58 442.00,281.00 C444.10,281.42 446.67,281.42 447.60,281.50" stroke="#3a2f9e" stroke-width="1.9" fill="none" stroke-linejoin="round" stroke-linecap="round"/>
<path d="M393.00,281.50 C393.67,280.58 395.67,277.75 397.00,276.00 C398.33,274.25 399.67,272.25 401.00,271.00 C402.33,269.75 403.50,269.00 405.00,268.50 C406.50,268.00 408.33,267.75 410.00,268.00 C411.67,268.25 413.33,269.08 415.00,270.00 C416.67,270.92 418.17,272.25 420.00,273.50 C421.83,274.75 423.83,276.33 426.00,277.50 C428.17,278.67 430.67,279.83 433.00,280.50 C435.33,281.17 438.83,281.33 440.00,281.50" stroke="#3b32a6" stroke-width="1.9" fill="none" stroke-linejoin="round" stroke-linecap="round"/>
<path d="M392.00,281.50 C392.67,280.25 394.67,276.08 396.00,274.00 C397.33,271.92 398.67,270.25 400.00,269.00 C401.33,267.75 402.67,267.00 404.00,266.50 C405.33,266.00 406.50,265.75 408.00,266.00 C409.50,266.25 411.33,267.00 413.00,268.00 C414.67,269.00 416.17,270.50 418.00,272.00 C419.83,273.50 421.67,275.42 424.00,277.00 C426.33,278.58 430.67,280.75 432.00,281.50" stroke="#3c38ae" stroke-width="1.9" fill="none" stroke-linejoin="round" stroke-linecap="round"/>
<path d="M390.00,281.50 C390.50,278.92 392.00,269.92 393.00,266.00 C394.00,262.08 394.83,258.67 396.00,258.00 C397.17,257.33 398.67,261.17 400.00,262.00 C401.33,262.83 402.67,262.50 404.00,263.00 C405.33,263.50 406.50,263.75 408.00,265.00 C409.50,266.25 411.33,268.67 413.00,270.50 C414.67,272.33 416.17,274.17 418.00,276.00 C419.83,277.83 423.00,280.58 424.00,281.50" stroke="#3f42bc" stroke-width="1.9" fill="none" stroke-linejoin="round" stroke-linecap="round"/>
<path d="M389.00,281.50 C389.50,277.25 391.17,262.25 392.00,256.00 C392.83,249.75 393.00,244.00 394.00,244.00 C395.00,244.00 396.67,252.67 398.00,256.00 C399.33,259.33 400.67,262.17 402.00,264.00 C403.33,265.83 404.67,265.83 406.00,267.00 C407.33,268.17 408.67,269.42 410.00,271.00 C411.33,272.58 412.67,274.75 414.00,276.50 C415.33,278.25 417.33,280.67 418.00,281.50" stroke="#3f50c8" stroke-width="1.9" fill="none" stroke-linejoin="round" stroke-linecap="round"/>
<path d="M388.50,281.50 C388.92,275.92 390.33,256.08 391.00,248.00 C391.67,239.92 391.67,233.00 392.50,233.00 C393.33,233.00 394.75,243.50 396.00,248.00 C397.25,252.50 398.67,256.92 400.00,260.00 C401.33,263.08 402.83,264.67 404.00,266.50 C405.17,268.33 406.00,269.33 407.00,271.00 C408.00,272.67 408.83,274.75 410.00,276.50 C411.17,278.25 413.33,280.67 414.00,281.50" stroke="#3e60d2" stroke-width="1.9" fill="none" stroke-linejoin="round" stroke-linecap="round"/>
<path d="M388.00,281.50 C388.33,275.08 389.42,251.92 390.00,243.00 C390.58,234.08 390.67,227.83 391.50,228.00 C392.33,228.17 393.83,239.33 395.00,244.00 C396.17,248.67 397.33,252.33 398.50,256.00 C399.67,259.67 400.92,263.17 402.00,266.00 C403.08,268.83 404.00,270.83 405.00,273.00 C406.00,275.17 407.00,277.58 408.00,279.00 C409.00,280.42 410.50,281.08 411.00,281.50" stroke="#3d6fd8" stroke-width="1.9" fill="none" stroke-linejoin="round" stroke-linecap="round"/>
<path d="M387.50,281.50 C387.83,274.25 388.92,247.42 389.50,238.00 C390.08,228.58 390.25,224.67 391.00,225.00 C391.75,225.33 393.00,235.17 394.00,240.00 C395.00,244.83 396.00,249.83 397.00,254.00 C398.00,258.17 399.00,261.75 400.00,265.00 C401.00,268.25 402.00,271.08 403.00,273.50 C404.00,275.92 405.17,278.17 406.00,279.50 C406.83,280.83 407.67,281.17 408.00,281.50" stroke="#3c80dc" stroke-width="1.9" fill="none" stroke-linejoin="round" stroke-linecap="round"/>
<path d="M387.00,281.50 C387.33,275.08 388.42,252.67 389.00,243.00 C389.58,233.33 389.83,224.00 390.50,223.50 C391.17,223.00 392.08,234.25 393.00,240.00 C393.92,245.75 395.00,252.83 396.00,258.00 C397.00,263.17 398.00,267.42 399.00,271.00 C400.00,274.58 401.17,277.75 402.00,279.50 C402.83,281.25 403.67,281.17 404.00,281.50" stroke="#3a94d6" stroke-width="1.9" fill="none" stroke-linejoin="round" stroke-linecap="round"/>
<path d="M388.00,281.50 C388.33,276.25 389.38,258.42 390.00,250.00 C390.62,241.58 391.08,231.83 391.70,231.00 C392.32,230.17 392.98,239.00 393.70,245.00 C394.42,251.00 395.20,260.92 396.00,267.00 C396.80,273.08 398.08,279.08 398.50,281.50" stroke="#e5d634" stroke-width="2.2" fill="none" stroke-linejoin="round" stroke-linecap="round"/>
<path d="M386.30,281.50 C386.58,275.92 387.45,258.03 388.00,248.00 C388.55,237.97 389.07,223.30 389.60,221.30 C390.13,219.30 390.63,229.22 391.20,236.00 C391.77,242.78 392.37,254.75 393.00,262.00 C393.63,269.25 394.33,276.25 395.00,279.50 C395.67,282.75 396.67,281.17 397.00,281.50" stroke="#f4e41c" stroke-width="2.6" fill="none" stroke-linejoin="round" stroke-linecap="round"/>
<text x="406.4" y="235.3" font-family='"Liberation Serif", serif' font-size="17" fill="#111" font-weight="normal" font-style="italic" text-anchor="start" >p</text>
<text x="414.6" y="235.3" font-family='"Liberation Serif", serif' font-size="17" fill="#111" font-weight="normal" font-style="normal" text-anchor="start" >(</text>
<text x="420.0" y="235.3" font-family='"Liberation Serif", serif' font-size="17" fill="#111" font-weight="normal" font-style="italic" text-anchor="start" >v</text>
<text x="428.3" y="235.3" font-family='"Liberation Serif", serif' font-size="17" fill="#111" font-weight="normal" font-style="normal" text-anchor="start" >,</text>
<text x="434.2" y="235.3" font-family='"Liberation Serif", serif' font-size="17" fill="#111" font-weight="normal" font-style="italic" text-anchor="start" >t</text>
<text x="439.8" y="235.3" font-family='"Liberation Serif", serif' font-size="17" fill="#111" font-weight="normal" font-style="normal" text-anchor="start" >)</text>
<text x="400.6" y="300" font-family='"Liberation Serif", serif' font-size="14.5" fill="#222" font-weight="normal" font-style="italic" text-anchor="start" >v</text>
<text x="407.2" y="301" font-family='"Liberation Serif", serif' font-size="14.5" fill="#222" font-weight="normal" font-style="normal" text-anchor="start" >[</text>
<text x="409.8" y="300" font-family='"Liberation Serif", serif' font-size="14.5" fill="#222" font-weight="normal" font-style="italic" text-anchor="start" >μ</text>
<text x="418.3" y="300" font-family='"Liberation Serif", serif' font-size="14.5" fill="#222" font-weight="normal" font-style="normal" text-anchor="start" textLength="12.2" lengthAdjust="spacingAndGlyphs">m</text>
<text x="430.8" y="296" font-family='"Liberation Serif", serif' font-size="9.5" fill="#222" font-weight="normal" font-style="normal" text-anchor="start" >3</text>
<text x="434.4" y="301" font-family='"Liberation Serif", serif' font-size="14.5" fill="#222" font-weight="normal" font-style="normal" text-anchor="start" >]</text>
<text x="402" y="314" font-family='"Liberation Sans", sans-serif' font-size="9.3" fill="#222" font-weight="normal" font-style="normal" text-anchor="start" >Simulation</text>
<text x="401.5" y="324.3" font-family='"Liberation Sans", sans-serif' font-size="9.3" fill="#222" font-weight="normal" font-style="normal" text-anchor="start" >(LB</text>
<path d="M416.8,320.6 L425.2,320.6 M422.8,318.8 L425.2,320.6 L422.8,322.4" stroke="#222" stroke-width="0.9" fill="none" />
<text x="425.6" y="324.3" font-family='"Liberation Sans", sans-serif' font-size="9.3" fill="#222" font-weight="normal" font-style="normal" text-anchor="start" >PBS)</text>
<defs><linearGradient id="par" x1="0" y1="1" x2="0" y2="0"><stop offset="0.0" stop-color="#352a87"/><stop offset="0.1" stop-color="#1252d1"/><stop offset="0.2" stop-color="#1276d5"/><stop offset="0.3" stop-color="#0e94ce"/><stop offset="0.4" stop-color="#0ba9be"/><stop offset="0.5" stop-color="#1ab5a3"/><stop offset="0.6" stop-color="#51bb7e"/><stop offset="0.7" stop-color="#91bb5b"/><stop offset="0.8" stop-color="#cebb44"/><stop offset="0.9" stop-color="#fbc239"/><stop offset="1.0" stop-color="#f9fb0e"/></linearGradient></defs>
<rect x="454.2" y="217.2" width="3.6" height="111.9" fill="url(#par)"/>
<text x="459.5" y="220.29999999999998" font-family='"Liberation Sans", sans-serif' font-size="7.6" fill="#1a1a1a" font-weight="normal" font-style="normal" text-anchor="start" >480 min</text>
<text x="459.5" y="248.2" font-family='"Liberation Sans", sans-serif' font-size="7.6" fill="#1a1a1a" font-weight="normal" font-style="normal" text-anchor="start" >360 min</text>
<line x1="454.2" y1="245.5" x2="455.2" y2="245.5" stroke="#666" stroke-width="0.6" stroke-linecap="butt"/>
<line x1="457.8" y1="245.5" x2="456.8" y2="245.5" stroke="#666" stroke-width="0.6" stroke-linecap="butt"/>
<text x="459.5" y="276.09999999999997" font-family='"Liberation Sans", sans-serif' font-size="7.6" fill="#1a1a1a" font-weight="normal" font-style="normal" text-anchor="start" >240 min</text>
<line x1="454.2" y1="273.4" x2="455.2" y2="273.4" stroke="#666" stroke-width="0.6" stroke-linecap="butt"/>
<line x1="457.8" y1="273.4" x2="456.8" y2="273.4" stroke="#666" stroke-width="0.6" stroke-linecap="butt"/>
<text x="459.5" y="303.99999999999994" font-family='"Liberation Sans", sans-serif' font-size="7.6" fill="#1a1a1a" font-weight="normal" font-style="normal" text-anchor="start" >120 min</text>
<line x1="454.2" y1="301.29999999999995" x2="455.2" y2="301.29999999999995" stroke="#666" stroke-width="0.6" stroke-linecap="butt"/>
<line x1="457.8" y1="301.29999999999995" x2="456.8" y2="301.29999999999995" stroke="#666" stroke-width="0.6" stroke-linecap="butt"/>
<text x="459.5" y="331.9" font-family='"Liberation Sans", sans-serif' font-size="7.6" fill="#1a1a1a" font-weight="normal" font-style="normal" text-anchor="start" >0 min</text>
<text x="491.5" y="225.6" font-family='"Liberation Sans", sans-serif' font-size="24" fill="#000" font-weight="bold" font-style="normal" text-anchor="start" >e</text>
<rect x="531.4" y="219.3" width="152.39999999999998" height="108.0" fill="none" stroke="#c4c4c4" stroke-width="0.9"/>
<text x="528.6" y="331.0" font-family='"Liberation Sans", sans-serif' font-size="10.3" fill="#2a2a2a" font-weight="normal" font-style="normal" text-anchor="end" >0</text>
<text x="528.6" y="295.28000000000003" font-family='"Liberation Sans", sans-serif' font-size="10.3" fill="#2a2a2a" font-weight="normal" font-style="normal" text-anchor="end" textLength="17" lengthAdjust="spacingAndGlyphs">0.02</text>
<line x1="531.4" y1="291.58000000000004" x2="532.9" y2="291.58000000000004" stroke="#c4c4c4" stroke-width="0.8" stroke-linecap="butt"/>
<line x1="683.8" y1="291.58000000000004" x2="682.3" y2="291.58000000000004" stroke="#c4c4c4" stroke-width="0.8" stroke-linecap="butt"/>
<text x="528.6" y="259.56" font-family='"Liberation Sans", sans-serif' font-size="10.3" fill="#2a2a2a" font-weight="normal" font-style="normal" text-anchor="end" textLength="17" lengthAdjust="spacingAndGlyphs">0.04</text>
<line x1="531.4" y1="255.86" x2="532.9" y2="255.86" stroke="#c4c4c4" stroke-width="0.8" stroke-linecap="butt"/>
<line x1="683.8" y1="255.86" x2="682.3" y2="255.86" stroke="#c4c4c4" stroke-width="0.8" stroke-linecap="butt"/>
<text x="528.6" y="223.84" font-family='"Liberation Sans", sans-serif' font-size="10.3" fill="#2a2a2a" font-weight="normal" font-style="normal" text-anchor="end" textLength="17" lengthAdjust="spacingAndGlyphs">0.06</text>
<text x="531.4" y="339.5" font-family='"Liberation Sans", sans-serif' font-size="10.3" fill="#2a2a2a" font-weight="normal" font-style="normal" text-anchor="middle" textLength="12.6" lengthAdjust="spacingAndGlyphs">0.5</text>
<text x="574.0" y="339.5" font-family='"Liberation Sans", sans-serif' font-size="10.3" fill="#2a2a2a" font-weight="normal" font-style="normal" text-anchor="middle" >1</text>
<line x1="574.0" y1="327.3" x2="574.0" y2="325.8" stroke="#c4c4c4" stroke-width="0.8" stroke-linecap="butt"/>
<line x1="574.0" y1="219.3" x2="574.0" y2="220.8" stroke="#c4c4c4" stroke-width="0.8" stroke-linecap="butt"/>
<text x="616.6" y="339.5" font-family='"Liberation Sans", sans-serif' font-size="10.3" fill="#2a2a2a" font-weight="normal" font-style="normal" text-anchor="middle" textLength="12.6" lengthAdjust="spacingAndGlyphs">1.5</text>
<line x1="616.6" y1="327.3" x2="616.6" y2="325.8" stroke="#c4c4c4" stroke-width="0.8" stroke-linecap="butt"/>
<line x1="616.6" y1="219.3" x2="616.6" y2="220.8" stroke="#c4c4c4" stroke-width="0.8" stroke-linecap="butt"/>
<text x="659.2" y="339.5" font-family='"Liberation Sans", sans-serif' font-size="10.3" fill="#2a2a2a" font-weight="normal" font-style="normal" text-anchor="middle" >2</text>
<line x1="659.2" y1="327.3" x2="659.2" y2="325.8" stroke="#c4c4c4" stroke-width="0.8" stroke-linecap="butt"/>
<line x1="659.2" y1="219.3" x2="659.2" y2="220.8" stroke="#c4c4c4" stroke-width="0.8" stroke-linecap="butt"/>
<text transform="translate(507.8,312.6) rotate(-90)" font-family='"Liberation Serif", serif' font-size="13" fill="#222"><tspan font-style="italic">B</tspan>(<tspan font-style="italic">v</tspan>, <tspan font-style="italic">t</tspan>) [min<tspan font-size="9" dy="-4.5">−1</tspan><tspan dy="4.5">]</tspan></text>
<text x="590.3" y="347.5" font-family='"Liberation Serif", serif' font-size="17" fill="#222"><tspan font-style="italic">v</tspan>/<tspan font-style="italic">V</tspan>(<tspan font-style="italic">t</tspan>)</text>
<path d="M551.90,327.00 L562.60,327.00 L573.30,327.00 L584.00,325.70 L594.70,322.70 L605.40,315.20 L616.10,301.80 L626.80,282.20 L637.50,253.60 L648.20,253.60 L658.90,222.20" stroke="#2b2e8c" stroke-width="1.6" fill="none" stroke-dasharray="1.4,1.8"/>
<circle cx="551.90" cy="327.00" r="3.6" fill="#2b2e8c"/>
<circle cx="562.60" cy="327.00" r="3.6" fill="#2b2e8c"/>
<circle cx="573.30" cy="327.00" r="3.6" fill="#2b2e8c"/>
<circle cx="584.00" cy="325.70" r="3.6" fill="#2b2e8c"/>
<circle cx="594.70" cy="322.70" r="3.6" fill="#2b2e8c"/>
<circle cx="605.40" cy="315.20" r="3.6" fill="#2b2e8c"/>
<circle cx="616.10" cy="301.80" r="3.6" fill="#2b2e8c"/>
<circle cx="626.80" cy="282.20" r="3.6" fill="#2b2e8c"/>
<circle cx="637.50" cy="253.60" r="3.6" fill="#2b2e8c"/>
<circle cx="648.20" cy="253.60" r="3.6" fill="#2b2e8c"/>
<circle cx="658.90" cy="222.20" r="3.6" fill="#2b2e8c"/>
<path d="M557.30,327.00 L569.50,327.00 L581.70,326.80 L593.90,325.00 L606.10,318.40 L618.30,312.20 L630.50,304.00 L642.70,293.40 L654.90,280.20 L667.10,271.70" stroke="#3487cf" stroke-width="1.6" fill="none" stroke-dasharray="1.4,1.8"/>
<circle cx="557.30" cy="327.00" r="3.6" fill="#3487cf"/>
<circle cx="569.50" cy="327.00" r="3.6" fill="#3487cf"/>
<circle cx="581.70" cy="326.80" r="3.6" fill="#3487cf"/>
<circle cx="593.90" cy="325.00" r="3.6" fill="#3487cf"/>
<circle cx="606.10" cy="318.40" r="3.6" fill="#3487cf"/>
<circle cx="618.30" cy="312.20" r="3.6" fill="#3487cf"/>
<circle cx="630.50" cy="304.00" r="3.6" fill="#3487cf"/>
<circle cx="642.70" cy="293.40" r="3.6" fill="#3487cf"/>
<circle cx="654.90" cy="280.20" r="3.6" fill="#3487cf"/>
<circle cx="667.10" cy="271.70" r="3.6" fill="#3487cf"/>
<path d="M556.20,327.00 L569.60,327.00 L583.00,326.80 L596.40,324.40 L609.80,320.00 L623.40,315.30 L636.80,308.30 L650.00,301.20 L663.90,287.50 L677.60,289.60" stroke="#e5352b" stroke-width="1.6" fill="none" stroke-dasharray="1.4,1.8"/>
<circle cx="556.20" cy="327.00" r="3.6" fill="#e5352b"/>
<circle cx="569.60" cy="327.00" r="3.6" fill="#e5352b"/>
<circle cx="583.00" cy="326.80" r="3.6" fill="#e5352b"/>
<circle cx="596.40" cy="324.40" r="3.6" fill="#e5352b"/>
<circle cx="609.80" cy="320.00" r="3.6" fill="#e5352b"/>
<circle cx="623.40" cy="315.30" r="3.6" fill="#e5352b"/>
<circle cx="636.80" cy="308.30" r="3.6" fill="#e5352b"/>
<circle cx="650.00" cy="301.20" r="3.6" fill="#e5352b"/>
<circle cx="663.90" cy="287.50" r="3.6" fill="#e5352b"/>
<circle cx="677.60" cy="289.60" r="3.6" fill="#e5352b"/>
<path d="M554.10,327.00 L567.60,326.80 L581.10,326.50 L594.60,326.00 L607.80,323.40 L621.80,318.60 L635.10,312.40 L648.60,306.20 L662.30,294.00 L676.00,294.70" stroke="#bfb22c" stroke-width="1.6" fill="none" stroke-dasharray="1.4,1.8"/>
<circle cx="554.10" cy="327.00" r="3.6" fill="#bfb22c"/>
<circle cx="567.60" cy="326.80" r="3.6" fill="#bfb22c"/>
<circle cx="581.10" cy="326.50" r="3.6" fill="#bfb22c"/>
<circle cx="594.60" cy="326.00" r="3.6" fill="#bfb22c"/>
<circle cx="607.80" cy="323.40" r="3.6" fill="#bfb22c"/>
<circle cx="621.80" cy="318.60" r="3.6" fill="#bfb22c"/>
<circle cx="635.10" cy="312.40" r="3.6" fill="#bfb22c"/>
<circle cx="648.60" cy="306.20" r="3.6" fill="#bfb22c"/>
<circle cx="662.30" cy="294.00" r="3.6" fill="#bfb22c"/>
<circle cx="676.00" cy="294.70" r="3.6" fill="#bfb22c"/>
<rect x="560" y="226.5" width="64.39999999999998" height="57.10000000000002" fill="#fff" stroke="#c4c4c4" stroke-width="0.9"/>
<text x="557.6" y="230.2" font-family='"Liberation Sans", sans-serif' font-size="10.3" fill="#2a2a2a" font-weight="normal" font-style="normal" text-anchor="end" textLength="9" lengthAdjust="spacingAndGlyphs">0.1</text>
<text x="557.6" y="258.7" font-family='"Liberation Sans", sans-serif' font-size="10.3" fill="#2a2a2a" font-weight="normal" font-style="normal" text-anchor="end" textLength="14" lengthAdjust="spacingAndGlyphs">0.05</text>
<line x1="560" y1="255" x2="561.5" y2="255" stroke="#c4c4c4" stroke-width="0.8" stroke-linecap="butt"/>
<line x1="624.4" y1="255" x2="622.9" y2="255" stroke="#c4c4c4" stroke-width="0.8" stroke-linecap="butt"/>
<text x="557.6" y="287.0" font-family='"Liberation Sans", sans-serif' font-size="10.3" fill="#2a2a2a" font-weight="normal" font-style="normal" text-anchor="end"  lengthAdjust="spacingAndGlyphs">0</text>
<text x="574.2" y="294.5" font-family='"Liberation Sans", sans-serif' font-size="10.3" fill="#2a2a2a" font-weight="normal" font-style="normal" text-anchor="middle" >1</text>
<line x1="574.2" y1="283.6" x2="574.2" y2="282.1" stroke="#c4c4c4" stroke-width="0.8" stroke-linecap="butt"/>
<text x="592.5" y="294.5" font-family='"Liberation Sans", sans-serif' font-size="10.3" fill="#2a2a2a" font-weight="normal" font-style="normal" text-anchor="middle" textLength="11.5" lengthAdjust="spacingAndGlyphs">1.5</text>
<line x1="592.5" y1="283.6" x2="592.5" y2="282.1" stroke="#c4c4c4" stroke-width="0.8" stroke-linecap="butt"/>
<text x="611.6" y="294.5" font-family='"Liberation Sans", sans-serif' font-size="10.3" fill="#2a2a2a" font-weight="normal" font-style="normal" text-anchor="middle" >2</text>
<line x1="611.6" y1="283.6" x2="611.6" y2="282.1" stroke="#c4c4c4" stroke-width="0.8" stroke-linecap="butt"/>
<text x="571.5" y="302.2" font-family='"Liberation Serif", serif' font-size="14" fill="#222"><tspan font-style="italic">v</tspan>/<tspan font-style="italic">V</tspan>(<tspan font-style="italic">t</tspan>)</text>
<text transform="translate(540.6,291.5) rotate(-90)" font-family='"Liberation Serif", serif' font-size="11" fill="#222" textLength="70" lengthAdjust="spacingAndGlyphs"><tspan font-style="italic">B</tspan>(<tspan font-style="italic">v</tspan>, <tspan font-style="italic">t</tspan>)<tspan font-style="italic">B</tspan><tspan font-size="7.5" dy="2.2" font-style="italic">t</tspan><tspan dy="-2.2">(0)/</tspan><tspan font-style="italic">B</tspan><tspan font-size="7.5" dy="2.2" font-style="italic">t</tspan><tspan dy="-2.2">(</tspan><tspan font-style="italic">t</tspan>)</text>
<text transform="translate(551.6,282.8) rotate(-90)" font-family='"Liberation Serif", serif' font-size="7.6" fill="#222">[min<tspan font-size="5.5" dy="-3">−1</tspan><tspan dy="3">]</tspan></text>
<path d="M567.39,283.30 L573.35,283.30 L579.12,283.30 L585.42,284.38 L591.20,278.67 L596.58,275.26 L602.53,268.16 L607.60,257.43 L613.78,242.71 L620.02,243.23" stroke="#2b2e8c" stroke-width="1.6" fill="none" stroke-dasharray="1.4,1.8"/>
<circle cx="567.39" cy="283.30" r="3.3" fill="#2b2e8c"/>
<circle cx="573.35" cy="283.30" r="3.3" fill="#2b2e8c"/>
<circle cx="579.12" cy="283.30" r="3.3" fill="#2b2e8c"/>
<circle cx="585.42" cy="284.38" r="3.3" fill="#2b2e8c"/>
<circle cx="591.20" cy="278.67" r="3.3" fill="#2b2e8c"/>
<circle cx="596.58" cy="275.26" r="3.3" fill="#2b2e8c"/>
<circle cx="602.53" cy="268.16" r="3.3" fill="#2b2e8c"/>
<circle cx="607.60" cy="257.43" r="3.3" fill="#2b2e8c"/>
<circle cx="613.78" cy="242.71" r="3.3" fill="#2b2e8c"/>
<circle cx="620.02" cy="243.23" r="3.3" fill="#2b2e8c"/>
<path d="M566.60,283.30 L572.45,283.30 L578.72,283.30 L584.69,282.74 L590.52,278.70 L596.36,273.08 L601.50,267.42 L607.49,256.54 L614.18,242.82 L619.36,244.78" stroke="#3487cf" stroke-width="1.6" fill="none" stroke-dasharray="1.4,1.8"/>
<circle cx="566.60" cy="283.30" r="3.3" fill="#3487cf"/>
<circle cx="572.45" cy="283.30" r="3.3" fill="#3487cf"/>
<circle cx="578.72" cy="283.30" r="3.3" fill="#3487cf"/>
<circle cx="584.69" cy="282.74" r="3.3" fill="#3487cf"/>
<circle cx="590.52" cy="278.70" r="3.3" fill="#3487cf"/>
<circle cx="596.36" cy="273.08" r="3.3" fill="#3487cf"/>
<circle cx="601.50" cy="267.42" r="3.3" fill="#3487cf"/>
<circle cx="607.49" cy="256.54" r="3.3" fill="#3487cf"/>
<circle cx="614.18" cy="242.82" r="3.3" fill="#3487cf"/>
<circle cx="619.36" cy="244.78" r="3.3" fill="#3487cf"/>
<path d="M566.34,283.30 L572.17,283.30 L577.75,283.30 L584.04,280.87 L589.85,276.63 L595.67,271.67 L601.33,264.93 L607.11,255.04 L613.25,240.50 L619.07,241.89" stroke="#e5352b" stroke-width="1.6" fill="none" stroke-dasharray="1.4,1.8"/>
<circle cx="566.34" cy="283.30" r="3.3" fill="#e5352b"/>
<circle cx="572.17" cy="283.30" r="3.3" fill="#e5352b"/>
<circle cx="577.75" cy="283.30" r="3.3" fill="#e5352b"/>
<circle cx="584.04" cy="280.87" r="3.3" fill="#e5352b"/>
<circle cx="589.85" cy="276.63" r="3.3" fill="#e5352b"/>
<circle cx="595.67" cy="271.67" r="3.3" fill="#e5352b"/>
<circle cx="601.33" cy="264.93" r="3.3" fill="#e5352b"/>
<circle cx="607.11" cy="255.04" r="3.3" fill="#e5352b"/>
<circle cx="613.25" cy="240.50" r="3.3" fill="#e5352b"/>
<circle cx="619.07" cy="241.89" r="3.3" fill="#e5352b"/>
<path d="M566.10,283.30 L571.90,283.30 L577.60,283.30 L583.70,282.00 L589.50,278.00 L595.50,272.40 L601.20,265.40 L607.00,255.70 L613.00,240.80 L618.80,242.60" stroke="#bfb22c" stroke-width="1.6" fill="none" stroke-dasharray="1.4,1.8"/>
<circle cx="566.10" cy="283.30" r="3.3" fill="#bfb22c"/>
<circle cx="571.90" cy="283.30" r="3.3" fill="#bfb22c"/>
<circle cx="577.60" cy="283.30" r="3.3" fill="#bfb22c"/>
<circle cx="583.70" cy="282.00" r="3.3" fill="#bfb22c"/>
<circle cx="589.50" cy="278.00" r="3.3" fill="#bfb22c"/>
<circle cx="595.50" cy="272.40" r="3.3" fill="#bfb22c"/>
<circle cx="601.20" cy="265.40" r="3.3" fill="#bfb22c"/>
<circle cx="607.00" cy="255.70" r="3.3" fill="#bfb22c"/>
<circle cx="613.00" cy="240.80" r="3.3" fill="#bfb22c"/>
<circle cx="618.80" cy="242.60" r="3.3" fill="#bfb22c"/>
<line x1="561.5" y1="232.0" x2="569" y2="232.0" stroke="#2b2e8c" stroke-width="1.5" stroke-linecap="butt"/>
<circle cx="565.3" cy="232.0" r="3.3" fill="#2b2e8c"/>
<text x="570.6" y="235.5" font-family='"Liberation Serif", serif' font-size="11" fill="#222" font-weight="normal" font-style="italic" text-anchor="start" >t</text>
<line x1="577.4" y1="231.4" x2="584" y2="231.4" stroke="#222" stroke-width="0.9" stroke-linecap="butt"/>
<line x1="577.4" y1="233.6" x2="584" y2="233.6" stroke="#222" stroke-width="0.9" stroke-linecap="butt"/>
<text x="587.0" y="235.5" font-family='"Liberation Serif", serif' font-size="11" fill="#222" font-weight="normal" font-style="normal" text-anchor="start" >0</text>
<text x="592.2" y="235.5" font-family='"Liberation Serif", serif' font-size="11" fill="#222" font-weight="normal" font-style="normal" text-anchor="start" textLength="18.2" lengthAdjust="spacingAndGlyphs">[min]</text>
<line x1="561.5" y1="242.45" x2="569" y2="242.45" stroke="#3487cf" stroke-width="1.5" stroke-linecap="butt"/>
<circle cx="565.3" cy="242.45" r="3.3" fill="#3487cf"/>
<text x="570.6" y="245.95" font-family='"Liberation Serif", serif' font-size="11" fill="#222" font-weight="normal" font-style="italic" text-anchor="start" >t</text>
<line x1="577.4" y1="241.85" x2="584" y2="241.85" stroke="#222" stroke-width="0.9" stroke-linecap="butt"/>
<line x1="577.4" y1="244.04999999999998" x2="584" y2="244.04999999999998" stroke="#222" stroke-width="0.9" stroke-linecap="butt"/>
<text x="587.0" y="245.95" font-family='"Liberation Serif", serif' font-size="11" fill="#222" font-weight="normal" font-style="normal" text-anchor="start" >30</text>
<line x1="561.5" y1="252.9" x2="569" y2="252.9" stroke="#e5352b" stroke-width="1.5" stroke-linecap="butt"/>
<circle cx="565.3" cy="252.9" r="3.3" fill="#e5352b"/>
<text x="570.6" y="256.4" font-family='"Liberation Serif", serif' font-size="11" fill="#222" font-weight="normal" font-style="italic" text-anchor="start" >t</text>
<line x1="577.4" y1="252.3" x2="584" y2="252.3" stroke="#222" stroke-width="0.9" stroke-linecap="butt"/>
<line x1="577.4" y1="254.5" x2="584" y2="254.5" stroke="#222" stroke-width="0.9" stroke-linecap="butt"/>
<text x="587.0" y="256.4" font-family='"Liberation Serif", serif' font-size="11" fill="#222" font-weight="normal" font-style="normal" text-anchor="start" >60</text>
<line x1="561.5" y1="263.35" x2="569" y2="263.35" stroke="#bfb22c" stroke-width="1.5" stroke-linecap="butt"/>
<circle cx="565.3" cy="263.35" r="3.3" fill="#bfb22c"/>
<text x="570.6" y="266.85" font-family='"Liberation Serif", serif' font-size="11" fill="#222" font-weight="normal" font-style="italic" text-anchor="start" >t</text>
<line x1="577.4" y1="262.75" x2="584" y2="262.75" stroke="#222" stroke-width="0.9" stroke-linecap="butt"/>
<line x1="577.4" y1="264.95000000000005" x2="584" y2="264.95000000000005" stroke="#222" stroke-width="0.9" stroke-linecap="butt"/>
<text x="587.0" y="266.85" font-family='"Liberation Serif", serif' font-size="11" fill="#222" font-weight="normal" font-style="normal" text-anchor="start" >90</text>
</svg>
</body></html>
